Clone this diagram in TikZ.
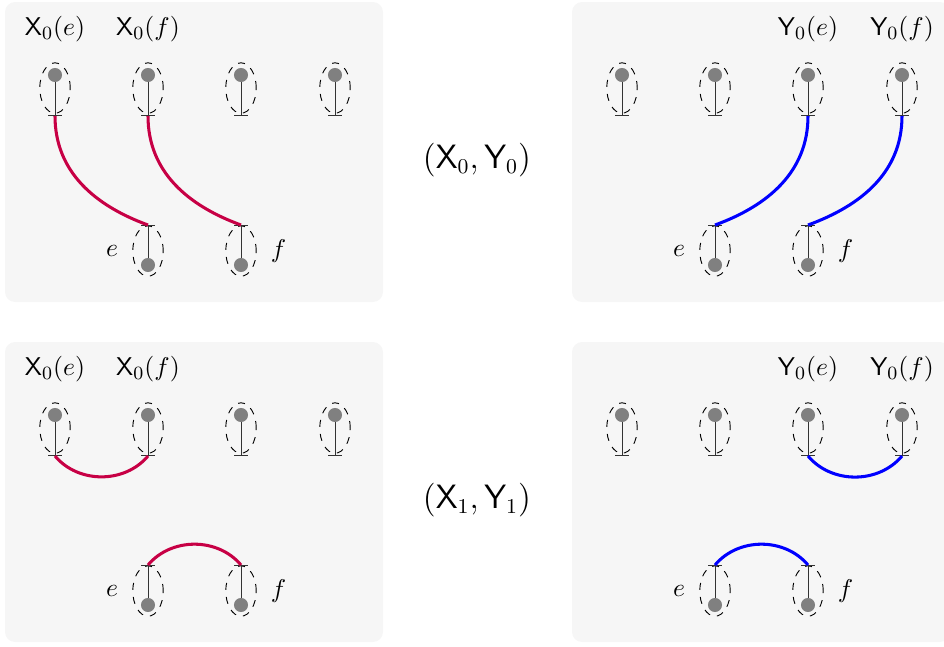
\documentclass[tikz,border=0pt]{standalone}
\usepackage{color}
\definecolor{crimson}{rgb}{0.78,0,0.27}
\usepackage{tikz}
\usetikzlibrary{shapes.geometric,positioning}
\tikzset{
	panel/.style={fill=gray!7, rounded corners=4.3pt},
	vertex/.style={
		circle, fill=gray, inner sep=0pt, minimum size=6pt
	},
	blob/.style={
		draw, dashed, ellipse, inner sep=0pt,
		minimum width=13pt, minimum height=21.5pt
	},
	leg/.style={-|, black!80},
	xedge/.style={crimson, line width=1.3pt},
	yedge/.style={blue, line width=1.3pt},
	halflabel/.style={font=\fontsize{11}{13}\selectfont},
	pairlabel/.style={font=\fontsize{13.5}{16}\selectfont}
}

\begin{document}
\begin{tikzpicture}[x=0.015cm, y=-0.015cm]
	\clip (0,0) rectangle (944,646);
	\foreach \p/\dx/\dy in {1/0/0, 2/567/0, 3/0/340, 4/567/340} {
		\begin{scope}[shift={(\dx,\dy)}]
			\fill[panel] (5,2) rectangle (383,302);
			\foreach \i/\x in {1/55, 2/148, 3/241, 4/335} {
				\node[blob] (topblob\p\i) at (\x,88) {};
				\coordinate (top\p\i) at (\x,75);
				\coordinate (topend\p\i) at (\x,116);
				\draw[leg] (top\p\i) -- (topend\p\i);
				\node[vertex] (topdot\p\i) at (top\p\i) {};
			}
			\foreach \i/\x in {1/148, 2/241} {
				\node[blob] (botblob\p\i) at (\x,251) {};
				\coordinate (bot\p\i) at (\x,265);
				\coordinate (botend\p\i) at (\x,225);
				\draw[leg] (bot\p\i) -- (botend\p\i);
				\node[vertex] (botdot\p\i) at (bot\p\i) {};
			}
			\node[halflabel, left=2.5pt of botblob\p1] (elabel\p) {$e$};
			\node[halflabel, right=2.5pt of botblob\p2] (flabel\p) {$f$};
		\end{scope}
	}
	% labels of the half edges
	\node[halflabel, above=5pt of topblob11] (xe1) {$\mathsf{X}_0(e)$};
	\node[halflabel, above=5pt of topblob12] (xf1) {$\mathsf{X}_0(f)$};
	\node[halflabel, above=5pt of topblob23] (ye2) {$\mathsf{Y}_0(e)$};
	\node[halflabel, above=5pt of topblob24] (yf2) {$\mathsf{Y}_0(f)$};
	\node[halflabel, above=5pt of topblob31] (xe3) {$\mathsf{X}_0(e)$};
	\node[halflabel, above=5pt of topblob32] (xf3) {$\mathsf{X}_0(f)$};
	\node[halflabel, above=5pt of topblob43] (ye4) {$\mathsf{Y}_0(e)$};
	\node[halflabel, above=5pt of topblob44] (yf4) {$\mathsf{Y}_0(f)$};
	\node[pairlabel] (pair0) at (477,160) {$(\mathsf{X}_0,\mathsf{Y}_0)$};
	\node[pairlabel] (pair1) at (477,500) {$(\mathsf{X}_1,\mathsf{Y}_1)$};
	% edges
	\draw[xedge] (topend11) to[out=-90, in=160] (botend11);
	\draw[xedge] (topend12) to[out=-90, in=160] (botend12);
	\draw[yedge] (topend23) to[out=-90, in=20] (botend21);
	\draw[yedge] (topend24) to[out=-90, in=20] (botend22);
	\draw[xedge] (topend31) to[out=-50, in=-130] (topend32);
	\draw[xedge] (botend31) to[out=50, in=130] (botend32);
	\draw[yedge] (topend43) to[out=-50, in=-130] (topend44);
	\draw[yedge] (botend41) to[out=50, in=130] (botend42);
\end{tikzpicture}
\end{document}
